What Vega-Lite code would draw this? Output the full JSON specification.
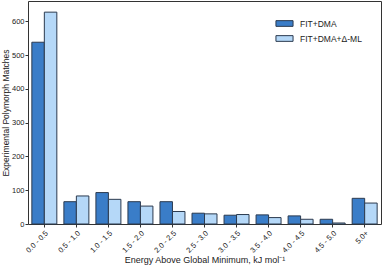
{
  "$schema": "https://vega.github.io/schema/vega-lite/v6.json",
  "width": 353,
  "height": 223,
  "autosize": {"type": "none"},
  "padding": {"left": 28, "top": 1, "right": 2, "bottom": 41},
  "config": {
    "font": "Liberation Sans",
    "view": {"stroke": "#333333", "strokeWidth": 1},
    "axis": {"domain": false, "grid": false, "tickColor": "#333", "labelColor": "#222", "titleColor": "#222", "tickSize": 3, "labelFontSize": 7.5, "titleFontSize": 9, "titleFontWeight": "normal"}
  },
  "data": {
    "values": [
      {"bin": "0.0 - 0.5", "method": "FIT+DMA", "count": 538},
      {"bin": "0.0 - 0.5", "method": "FIT+DMA+Δ-ML", "count": 627},
      {"bin": "0.5 - 1.0", "method": "FIT+DMA", "count": 66},
      {"bin": "0.5 - 1.0", "method": "FIT+DMA+Δ-ML", "count": 83},
      {"bin": "1.0 - 1.5", "method": "FIT+DMA", "count": 93},
      {"bin": "1.0 - 1.5", "method": "FIT+DMA+Δ-ML", "count": 73},
      {"bin": "1.5 - 2.0", "method": "FIT+DMA", "count": 66},
      {"bin": "1.5 - 2.0", "method": "FIT+DMA+Δ-ML", "count": 53},
      {"bin": "2.0 - 2.5", "method": "FIT+DMA", "count": 66},
      {"bin": "2.0 - 2.5", "method": "FIT+DMA+Δ-ML", "count": 37},
      {"bin": "2.5 - 3.0", "method": "FIT+DMA", "count": 32},
      {"bin": "2.5 - 3.0", "method": "FIT+DMA+Δ-ML", "count": 30},
      {"bin": "3.0 - 3.5", "method": "FIT+DMA", "count": 26},
      {"bin": "3.0 - 3.5", "method": "FIT+DMA+Δ-ML", "count": 28},
      {"bin": "3.5 - 4.0", "method": "FIT+DMA", "count": 27},
      {"bin": "3.5 - 4.0", "method": "FIT+DMA+Δ-ML", "count": 19},
      {"bin": "4.0 - 4.5", "method": "FIT+DMA", "count": 24},
      {"bin": "4.0 - 4.5", "method": "FIT+DMA+Δ-ML", "count": 14},
      {"bin": "4.5 - 5.0", "method": "FIT+DMA", "count": 14},
      {"bin": "4.5 - 5.0", "method": "FIT+DMA+Δ-ML", "count": 3},
      {"bin": "5.0+", "method": "FIT+DMA", "count": 76},
      {"bin": "5.0+", "method": "FIT+DMA+Δ-ML", "count": 62}
    ]
  },
  "mark": {"type": "bar", "stroke": "#2b3a4f", "strokeWidth": 1},
  "encoding": {
    "x": {
      "field": "bin", "type": "nominal", "sort": null,
      "scale": {"paddingInner": 0.22, "paddingOuter": 0.12},
      "axis": {"labelAngle": -45, "title": "Energy Above Global Minimum, kJ mol⁻¹", "titlePadding": 2, "labelPadding": 2}
    },
    "xOffset": {"field": "method", "type": "nominal", "sort": ["FIT+DMA", "FIT+DMA+Δ-ML"]},
    "y": {
      "field": "count", "type": "quantitative",
      "scale": {"domain": [0, 660], "nice": false},
      "axis": {"values": [0, 100, 200, 300, 400, 500, 600], "title": "Experimental Polymorph Matches", "titleFontSize": 8.5, "titlePadding": 1, "labelPadding": 1}
    },
    "color": {
      "field": "method", "type": "nominal",
      "scale": {"domain": ["FIT+DMA", "FIT+DMA+Δ-ML"], "range": ["#3a7dc8", "#b5d8f8"]},
      "legend": {
        "title": null, "orient": "none", "legendX": 250, "legendY": 16,
        "symbolType": "M-1.5,-0.5H1.5V0.5H-1.5Z", "symbolSize": 130, "symbolStrokeWidth": 1, "symbolStrokeColor": "#2b3a4f",
        "labelFontSize": 8.5, "labelColor": "#222", "rowPadding": 3, "labelOffset": 9
      }
    }
  }
}
